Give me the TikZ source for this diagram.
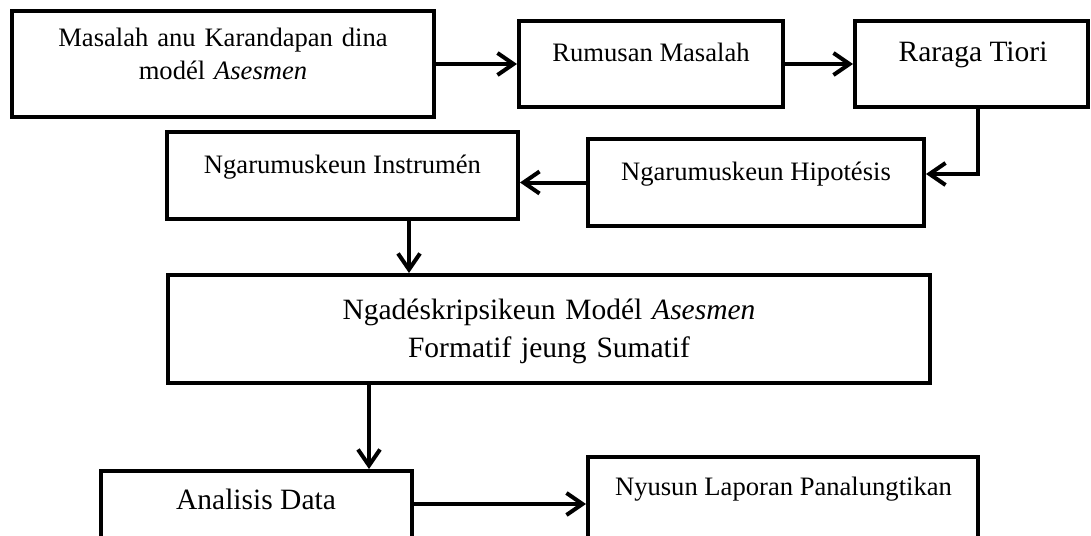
\documentclass[tikz,border=0pt]{standalone}
\usepackage{fontspec}
\setmainfont{Liberation Serif}
\usetikzlibrary{arrows.meta}

\begin{document}
\begin{tikzpicture}[x=0.5pt,y=-0.5pt,
	box/.style={draw,line width=2pt,inner sep=0pt},
	txt/.style={anchor=base,inner sep=0pt,font=\fontsize{13.3}{16.5}\selectfont},
	big/.style={font=\fontsize{14.75}{19}\selectfont},
	arr/.style={line width=2pt,-{Straight Barb[length=8pt,width=11pt]}}]
	\useasboundingbox (0,0) rectangle (1091,535);
	\clip (0,0) rectangle (1091,535);
	%top row
	\node[box,minimum width=211pt,minimum height=53pt] (masalah) at (223,64) {};
	\node[txt,align=center,text width=205pt] (tmasalah) at (223,47) {Masalah anu Karandapan dina\\modél \textit{Asesmen}};
	\node[box,minimum width=132pt,minimum height=43pt] (rumusan) at (651,64) {};
	\node[txt] (trumusan) at (651,62) {Rumusan Masalah};
	\node[box,minimum width=116.5pt,minimum height=43pt] (raraga) at (971.5,64) {};
	\node[txt,big] (traraga) at (973,62) {Raraga Tiori};
	%
	\node[box,minimum width=168pt,minimum height=43.5pt] (hipotesis) at (756,182.5) {};
	\node[txt] (thipotesis) at (756,180) {Ngarumuskeun Hipotésis};
	\node[box,minimum width=175.5pt,minimum height=43.5pt] (instrumen) at (342.5,175.5) {};
	\node[txt] (tinstrumen) at (342.5,173) {Ngarumuskeun Instrumén};
	
	%middle
	\node[box,minimum width=381pt,minimum height=54pt] (deskripsi) at (549,329) {};
	\node[txt,big,align=center,text width=370pt] (tdeskripsi) at (549,319) {Ngadéskripsikeun Modél \textit{Asesmen}\\Formatif jeung Sumatif};
	
	%bottom
	\node[box,minimum width=155.5pt,minimum height=52pt] (analisis) at (256.5,523) {};
	\node[txt,big] (tanalisis) at (256,509) {Analisis Data};
	\node[box,minimum width=195pt,minimum height=59pt] (nyusun) at (783,516) {};
	\node[txt] (tnyusun) at (783.5,495) {Nyusun Laporan Panalungtikan};
	
	%arrows
	\draw[arr] (masalah) -- (rumusan);
	\draw[arr] (rumusan) -- (raraga);
	\draw[arr] ([xshift=3.25pt]raraga.south) |- ([yshift=4.25pt]hipotesis.east);
	\draw[arr] (hipotesis.west) -- (hipotesis.west -| instrumen.east);
	\draw[arr] ([xshift=33.25pt]instrumen.south) -- ([xshift=33.25pt]instrumen.south |- deskripsi.north);
	\draw[arr] ([xshift=56.25pt]analisis.north |- deskripsi.south) -- ([xshift=56.25pt]analisis.north);
	\draw[arr] ([yshift=9.5pt]analisis.east) -- ([yshift=9.5pt]analisis.east -| nyusun.west);
\end{tikzpicture}
\end{document}
